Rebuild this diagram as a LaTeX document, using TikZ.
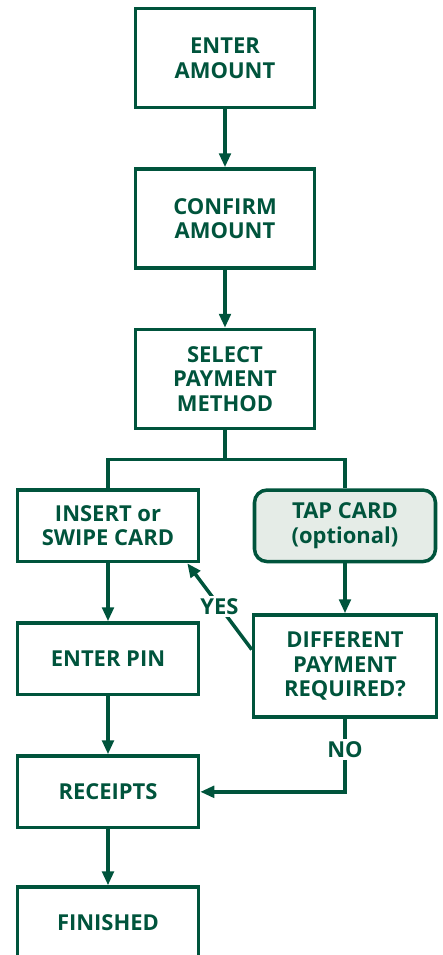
\documentclass[tikz,border=0pt]{standalone}
\usepackage{fontspec}
\setmainfont{Open Sans}
\usepackage{xcolor}
\definecolor{mygreen}{RGB}{0,84,60}
\definecolor{mygrey}{RGB}{229,236,231}
\usetikzlibrary{positioning, arrows.meta}

\begin{document}
\begin{tikzpicture}[node distance={11.6mm}, line width=2pt, color=mygreen,
		>={Triangle[length=2.8mm, width=2.3mm]},
		main/.style = {draw, rectangle, align=center, font=\fontsize{12.5}{14}\selectfont\bfseries, minimum width=35.8mm, minimum height=19.8mm},
		small/.style = {main, minimum width=36.2mm, minimum height=14.3mm},
		lbl/.style = {fill=white, inner sep=1.5pt, font=\fontsize{12.5}{14}\selectfont\bfseries}]
		\useasboundingbox (0,0) rectangle (8.86,-19.1);
		\clip (0,0) rectangle (8.86,-19.1);
		\node[main] (1) at (4.5,-1.16) {ENTER\\AMOUNT};
		\node[main] (2) [below=of 1] {CONFIRM\\AMOUNT};
		\node[main] (3) [below=of 2] {SELECT\\PAYMENT\\METHOD};
		\node[small] (4) [below=of 3, xshift=-23.4mm] {INSERT or\\SWIPE CARD};
		\node[small] (5) [below=of 3, xshift=24mm, rounded corners=2.5mm, fill=mygrey] {TAP CARD\\(optional)};
		\node[main] (6) [below=10mm of 5, minimum width=36.6mm, minimum height=20.4mm] {DIFFERENT\\PAYMENT\\REQUIRED?};
		\node[small] (7) [below=of 4] {ENTER PIN};
		\node[small] (8) [below=of 7] {RECEIPTS};
		\node[small] (9) [below=11.2mm of 8] {FINISHED};
		\path (3.south) -- ++(0,-0.58) coordinate (b);
		\draw (3) -- (b);
		\draw (4.north) |- (b) -| (5.north);
		\path[->] (1) edge (2)
			(2) edge (3)
			(4) edge (7)
			(5) edge (6)
			(7) edge (8)
			(8) edge (9);
		\draw[->] ([yshift=3.3mm]6.west) -- node[lbl] {YES} ([xshift=-2.6mm]4.south east);
		\draw[->] (6.south) |- node[lbl, pos=0.21] {NO} (8.east);
	\end{tikzpicture}
\end{document}
